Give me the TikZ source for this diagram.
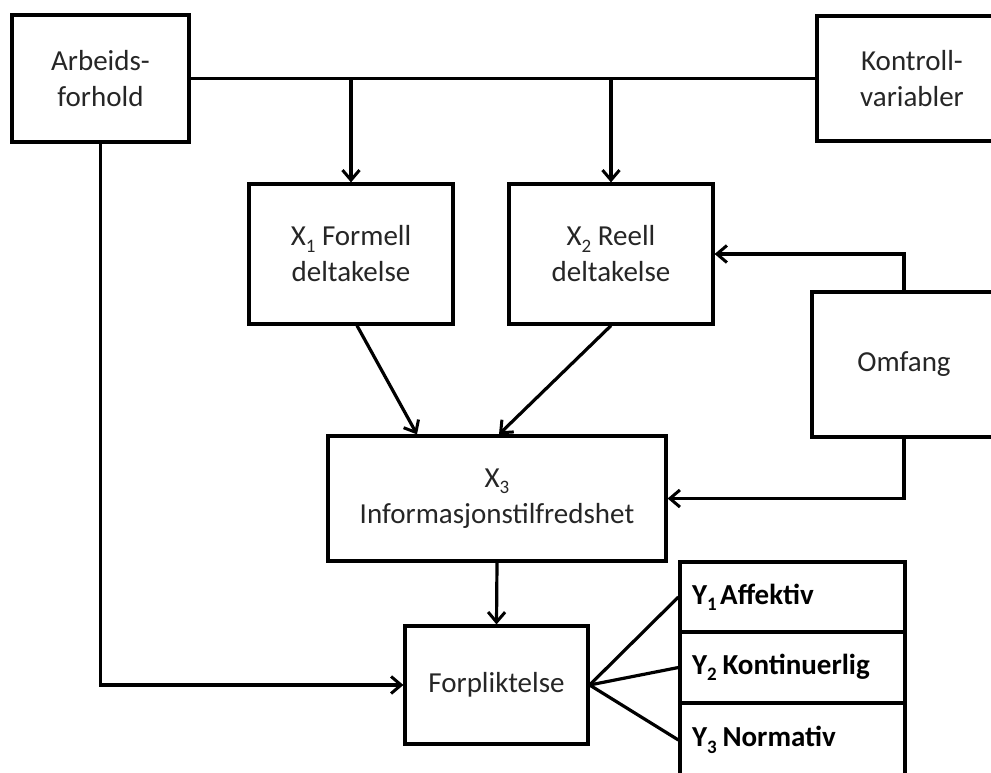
\documentclass[tikz,border=0pt]{standalone}
\usepackage{fontspec}
\setmainfont{Carlito}
\usetikzlibrary{arrows.meta}
\newcommand{\lowidx}[1]{\raisebox{-0.22em}{\fontsize{19}{19}\selectfont #1}}
\tikzset{
  box/.style={draw=black, line width=3.2pt, rectangle, align=center, inner sep=0pt, text=black!85},
  ybox/.style={draw=black, line width=3.2pt, rectangle, minimum width=225pt, text width=201pt, inner xsep=12pt, align=left, font=\fontsize{29}{36}\selectfont\bfseries},
  conn/.style={line width=3.2pt},
  arr/.style={line width=3.2pt, -{Straight Barb[length=10pt,width=17pt,line width=3pt]}}
}
\begin{document}
\begin{tikzpicture}[x=1pt,y=-1pt, font=\fontsize{29}{36}\selectfont]
\useasboundingbox (0,0) rectangle (991,773);
\clip (0,0) rectangle (991,773);
\fill[white] (0,0) rectangle (991,773);
\node[box, minimum width=177pt, minimum height=127pt] (arb) at (100.5,78.5) {Arbeids-\\forhold};
\node[box, minimum width=190pt, minimum height=125pt] (kon) at (912,78.5) {Kontroll-\\variabler};
\node[box, minimum width=204pt, minimum height=140pt] (x1) at (351,254) {X\lowidx{1} Formell\\deltakelse};
\node[box, minimum width=204pt, minimum height=140pt] (x2) at (611,254) {X\lowidx{2} Reell\\deltakelse};
\node[box, minimum width=184pt, minimum height=145pt] (omf) at (904,364.5) {Omfang};
\node[box, minimum width=338pt, minimum height=125pt] (x3) at (497,498.5) {X\lowidx{3}\\Informasjonstilfredshet};
\node[box, minimum width=183pt, minimum height=118pt] (forp) at (496.5,685) {Forpliktelse};
\node[ybox, minimum height=70pt] (y1) at (792.5,597) {Y\lowidx{1}\hspace{0.12em}Affektiv};
\node[ybox, minimum height=71pt] (y2) at (792.5,667.5) {Y\lowidx{2}\hspace{0.2em}Kontinuerlig};
\node[ybox, minimum height=74pt] (y3) at (792.5,740) {Y\lowidx{3}\hspace{0.2em}Normativ};
\draw[conn] (arb.east) -- (kon.west);
\draw[arr] (arb.east -| x1.north) -- (x1.north);
\draw[arr] (arb.east -| x2.north) -- (x2.north);
\draw[arr] (arb.south) |- (forp.west);
\draw[arr] (omf.north) |- (x2.east);
\draw[arr] (omf.south) |- (x3.east);
\draw[arr] ([xshift=6pt]x1.south) -- ([xshift=-80pt]x3.north);
\draw[arr] (x2.south) -- ([xshift=2pt]x3.north);
\draw[arr] (x3.south) -- (forp.north);
\draw[conn] (forp.east) -- (y1.west);
\draw[conn] (forp.east) -- (y2.west);
\draw[conn] (forp.east) -- (y3.west);
\end{tikzpicture}
\end{document}
